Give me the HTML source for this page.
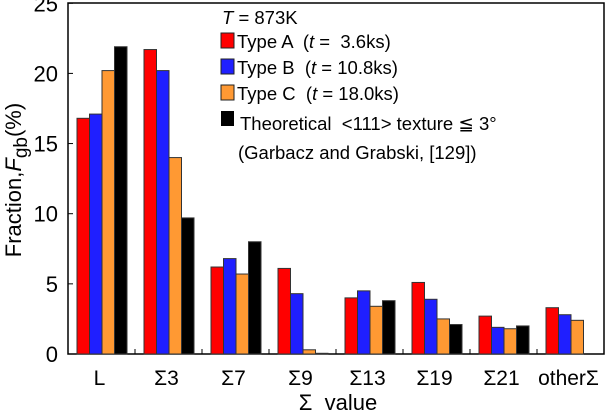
<!DOCTYPE html>
<html><head><meta charset="utf-8"><style>
body{margin:0;background:#fff;}
svg{display:block;font-family:"Liberation Sans",sans-serif;}
text{white-space:pre;}
</style></head><body>
<svg id="chart" width="606" height="414">
<rect x="68" y="3" width="536" height="351" fill="none" stroke="#000" stroke-width="1.5"/>
<g id="bars"></g><g id="axes"></g>
<g font-size="18.5">
<text x="222" y="24"><tspan font-style="italic">T</tspan> = 873K</text>
<rect x="221" y="33" width="13" height="15" fill="#ff0000" stroke="#222"/>
<text x="237" y="48">Type A  (<tspan font-style="italic">t</tspan> =  3.6ks)</text>
<rect x="221" y="59" width="13" height="15" fill="#1f1fff" stroke="#222"/>
<text x="237" y="74">Type B  (<tspan font-style="italic">t</tspan> = 10.8ks)</text>
<rect x="221" y="85" width="13" height="15" fill="#ff9933" stroke="#222"/>
<text x="237" y="100">Type C  (<tspan font-style="italic">t</tspan> = 18.0ks)</text>
<rect x="221" y="111" width="13" height="15" fill="#000"/>
<text x="240" y="130">Theoretical  &lt;111&gt; texture ≦ 3°</text>
<text x="238" y="159">(Garbacz and Grabski, [129])</text>
</g>
<text transform="translate(21,180) rotate(-90)" text-anchor="middle" font-size="22">Fraction,<tspan font-style="italic">F</tspan><tspan font-size="19" dy="6">gb</tspan><tspan dy="-6">(%)</tspan></text>
<text x="338" y="410" text-anchor="middle" font-size="22">Σ  value</text>
</svg>
<script>
const categories=["L","Σ3","Σ7","Σ9","Σ13","Σ19","Σ21","otherΣ"];
const typeA=[16.8,21.7,6.2,6.1,4.0,5.1,2.7,3.3];
const typeB=[17.1,20.2,6.8,4.3,4.5,3.9,1.9,2.8];
const typeC=[20.2,14.0,5.7,0.3,3.4,2.5,1.8,2.4];
const theory=[21.9,9.7,8.0,0.05,3.8,2.1,2.0,null];
const yTicks=[0,5,10,15,20,25];
const NS="http://www.w3.org/2000/svg";
const x0=68,slot=67,y0=354,pxPer=14.03;
const ys=v=>y0-v*pxPer;
const series=[[typeA,"#ff0000","a"],[typeB,"#1f1fff","b"],[typeC,"#ff9933","c"],[theory,"#000000","theory"]];
const bars=document.getElementById("bars"),axes=document.getElementById("axes");
categories.forEach((c,i)=>{
  series.forEach(([arr,col,nm],j)=>{
    const v=arr[i]; if(v==null) return;
    const r=document.createElementNS(NS,"rect");
    r.setAttribute("x",x0+i*slot+9+j*12.5);
    r.setAttribute("width",12.5);
    r.setAttribute("y",ys(v));
    r.setAttribute("height",v*pxPer);
    r.setAttribute("fill",col);
    r.setAttribute("stroke","#333");r.setAttribute("stroke-width","1");
    
    
    bars.appendChild(r);
  });
  const t=document.createElementNS(NS,"text");
  t.setAttribute("x",x0+i*slot+slot/2-2);t.setAttribute("y",y0+31);
  t.setAttribute("text-anchor","middle");t.setAttribute("font-size","21");
  t.textContent=c;
  
  
  axes.appendChild(t);
  if(i>0){const l=document.createElementNS(NS,"line");
    l.setAttribute("x1",x0+i*slot);l.setAttribute("x2",x0+i*slot);
    l.setAttribute("y1",y0);l.setAttribute("y2",y0-5);l.setAttribute("stroke","#000");
    
    
    axes.appendChild(l);}
});
yTicks.forEach(v=>{
  const l=document.createElementNS(NS,"line");
  l.setAttribute("x1",x0);l.setAttribute("x2",x0+5);
  l.setAttribute("y1",ys(v));l.setAttribute("y2",ys(v));l.setAttribute("stroke","#000");
  
  
  axes.appendChild(l);
  const t=document.createElementNS(NS,"text");
  t.setAttribute("x",58);t.setAttribute("y",ys(v)+8);
  t.setAttribute("text-anchor","end");t.setAttribute("font-size","22");
  t.textContent=v;
  
  
  axes.appendChild(t);
});
</script>
</body></html>
